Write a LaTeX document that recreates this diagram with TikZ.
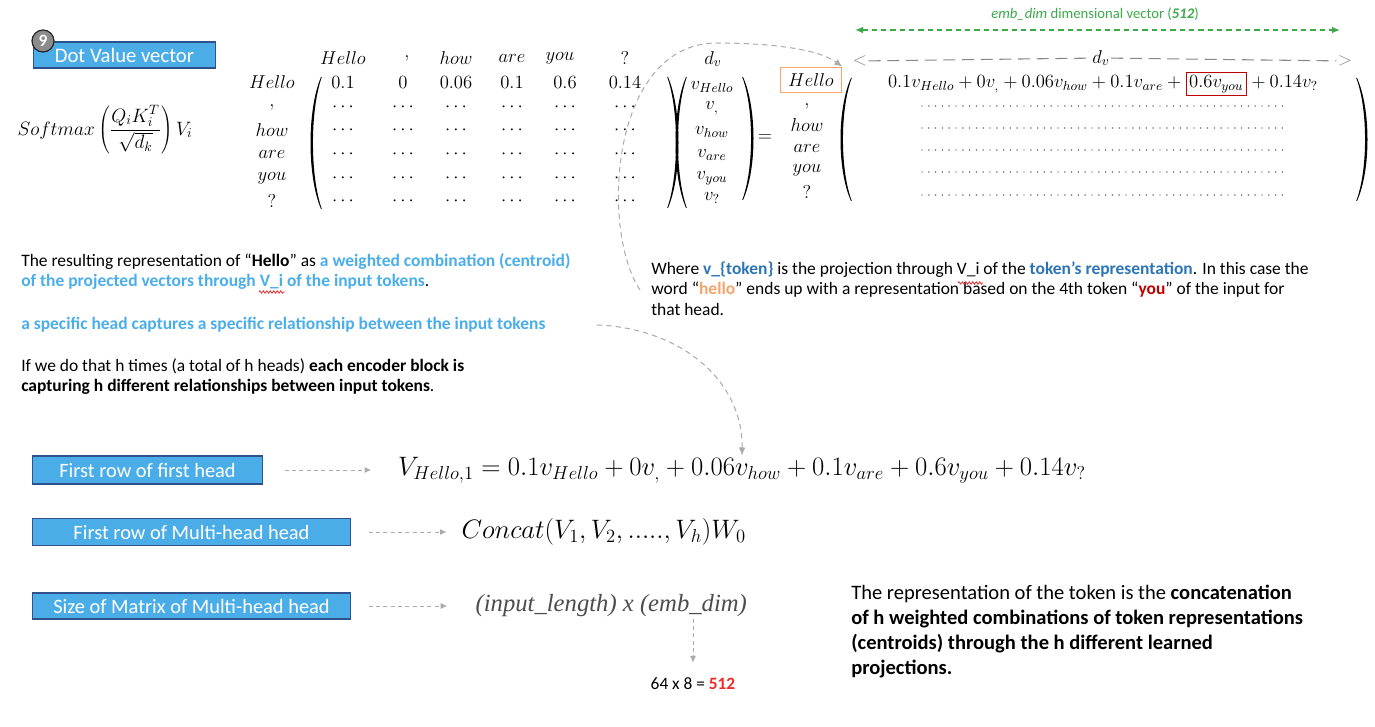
\documentclass[tikz,border=0pt]{standalone}
\usepackage{fix-cm}
\usepackage[no-math]{fontspec}
\setmainfont{Carlito}
\newfontfamily\serfont{Liberation Serif}
\usetikzlibrary{arrows.meta, positioning, calc, decorations.pathmorphing}
\definecolor{colBoxFill}{HTML}{4BADE8}
\definecolor{colBoxLine}{HTML}{2F528F}
\definecolor{colLightBlue}{HTML}{4AAEEA}
\definecolor{colDarkBlue}{HTML}{2E75B6}
\definecolor{colHello}{HTML}{F4A46C}
\definecolor{colYou}{HTML}{C00000}
\definecolor{colGreen}{HTML}{3DAA4A}
\definecolor{colConn}{HTML}{AAAAAA}
\definecolor{colDim}{HTML}{888888}
\definecolor{colRed}{HTML}{EE2A2A}
\definecolor{colSpell}{HTML}{E03030}
\definecolor{colBadge}{HTML}{8C8C8C}
\setlength{\fboxsep}{2pt}
\setlength{\fboxrule}{0.8pt}
% big round brackets, x of the tips, top, bottom
\newcommand{\parL}[3]{%
  \fill ({#1},{#2}) .. controls ({#1-14},{#2+0.25*(#3-#2)}) and ({#1-14},{#3-0.25*(#3-#2)}) .. ({#1},{#3})
    -- ({#1+0.8},{#3}) .. controls ({#1-11},{#3-0.25*(#3-#2)}) and ({#1-11},{#2+0.25*(#3-#2)}) .. ({#1+0.8},{#2}) -- cycle;}
\newcommand{\parR}[3]{%
  \fill ({#1},{#2}) .. controls ({#1+14},{#2+0.25*(#3-#2)}) and ({#1+14},{#3-0.25*(#3-#2)}) .. ({#1},{#3})
    -- ({#1-0.8},{#3}) .. controls ({#1+11},{#3-0.25*(#3-#2)}) and ({#1+11},{#2+0.25*(#3-#2)}) .. ({#1-0.8},{#2}) -- cycle;}

\begin{document}
\begin{tikzpicture}[x=0.75pt, y=-0.75pt,
  mth/.style={font=\fontsize{14}{17}\selectfont, inner sep=1pt},
  bigmth/.style={font=\fontsize{20}{24}\selectfont, inner sep=1pt},
  headbox/.style={draw=colBoxLine, fill=colBoxFill, line width=0.9pt, text=white,
    font=\fontsize{15.3}{18}\selectfont, inner sep=0pt},
  para/.style={anchor=north west, align=left, inner sep=0pt},
  conn/.style={colConn, dash pattern=on 4pt off 3pt, line width=0.75pt, -{Latex[length=6pt,width=5pt]}},
  flow/.style={colConn, dash pattern=on 3pt off 2.5pt, line width=0.7pt, -{Latex[length=5pt,width=4.5pt]}},
  dotrow/.style={black!80, line width=1.1pt, dash pattern=on 0pt off 5.1pt, line cap=round},
  spell/.style={colSpell, line width=0.6pt, decorate, decoration={zigzag, amplitude=0.9pt, segment length=2.6pt}}]

  \path[fill=white] (0,0) rectangle (1375,727);

  % Title box and formula
  \node[headbox, font=\fontsize{15.5}{18}\selectfont, minimum width=137pt, minimum height=19.5pt] (dotBox) at (124.5,55) {Dot Value vector};
  \node[circle, fill=colBadge, draw=black!85, line width=0.9pt, minimum size=16.5pt, inner sep=0pt,
    text=white, font=\bfseries\fontsize{13}{13}\selectfont] (badge) at (43,41) {9};
  \node[mth, font=\fontsize{14.5}{17}\selectfont] (softmax) at (105,130) {$\displaystyle Softmax\left(\frac{Q_iK_i^T}{\sqrt{d_k}}\right)V_i$};

  % Attention matrix
  \foreach \x/\w [count=\i] in {343/Hello, 407/{,}, 456/how, 512/are, 560/you, 625/?}
    \node[mth] (colH\i) at (\x,58) {$\w$};
  \foreach \y/\w [count=\i] in {82/Hello, 107/{,}, 130/how, 154/are, 178/you, 201/?}
    \node[mth] (rowH\i) at (272,\y) {$\w$};
  \foreach \x/\w [count=\i] in {343/0.1, 403/0, 456/0.06, 512/0.1, 565/0.6, 625/0.14}
    \node[mth] (wHello\i) at (\x,82) {$\w$};
  \foreach \x in {343,403,456,512,565,625}
    \foreach \y in {107,130,154,178,201}
      \node[mth] (dt-\x-\y) at (\x,\y) {$\cdots$};
  \parL{321}{77}{209}
  \parR{668}{77}{208}

  % Value vectors
  \node[mth] (dvV) at (713,59) {$d_v$};
  \foreach \y/\w [count=\i] in {87/Hello, 108/{,}, 132/how, 155/are, 178/you, 198/?}
    \node[mth] (vec\i) at (712,\y) {$v_{\w}$};
  \parL{686}{77}{208}
  \parR{743}{77}{200}
  \node[mth] (eq) at (765,138) {$=$};

  % Result
  \node[mth, draw=colHello, line width=0.9pt, minimum width=46pt, minimum height=19pt] (helloB) at (811,80) {$Hello$};
  \foreach \y/\w [count=\i] in {106/{,}, 125/how, 148/are, 170/you, 192/?}
    \node[mth] (resH\i) at (807,\y) {$\w$};
  \parL{851}{78}{201}
  \parR{1357}{78}{201}
  \node[mth, text=colDim] (ltS) at (860,61) {$<$};
  \node[mth, text=colDim] (gtS) at (1345,61) {$>$};
  \node[mth] (dvR) at (1101,58) {$d_v$};
  \draw[colDim, dash pattern=on 9pt off 5pt, line width=0.8pt] (ltS) -- (dvR);
  \draw[colDim, dash pattern=on 9pt off 5pt, line width=0.8pt] (dvR) -- (gtS);
  \node[mth] (resRow) at (1103,84) {$0.1v_{Hello} + 0v_{,} + 0.06v_{how} + 0.1v_{are} + \fcolorbox{colYou}{white}{$0.6v_{you}$} + 0.14v_{?}$};
  \foreach \y in {106,128,150,172,195}
    \draw[dotrow] (922,\y) -- (1284,\y);

  % emb_dim arrow
  \coordinate (embL) at (855,30);
  \coordinate (embR) at (1340,30);
  \draw[colGreen, line width=1.1pt, dash pattern=on 4pt off 3pt, {Latex[length=6pt,width=5pt]}-{Latex[length=6pt,width=5pt]}] (embL) -- (embR);
  \node[text=colGreen, font=\fontsize{11}{13}\selectfont] (embLbl) at (1095,14) {\textit{emb\_dim} dimensional vector (\textbf{\textit{512}})};

  % Notes
  \node[para, font=\fontsize{13.1}{15}\selectfont] (resultNote) at (21,253) {The resulting representation of “\textbf{Hello}” as \textcolor{colLightBlue}{\textbf{a weighted combination (centroid)}}\\
    \textcolor{colLightBlue}{\textbf{of the projected vectors through V\_i of the input tokens}}.};
  \node[anchor=west, inner sep=0pt, font=\fontsize{13.1}{15}\selectfont, text=colLightBlue] (headNote) at (21,325) {\textbf{a specific head captures a specific relationship between the input tokens}};
  \node[para, font=\fontsize{13.1}{15}\selectfont] (hNote) at (21,358) {If we do that h times (a total of h heads) \textbf{each encoder block is}\\
    \textbf{capturing h different relationships between input tokens}.};
  \node[para, font=\fontsize{13.1}{15.4}\selectfont] (whereNote) at (651,261) {Where \textcolor{colDarkBlue}{\textbf{v\_\{token\}}} is the projection through V\_i of the \textcolor{colDarkBlue}{\textbf{token’s representation}}. In this case the\\
    word “\textcolor{colHello}{\textbf{hello}}” ends up with a representation based on the 4th token “\textcolor{colYou}{\textbf{you}}” of the input for\\
    that head.};
  \draw[spell] (259,292) -- (285,292);
  \draw[spell] (958,283) -- (983,283);

  % Dashed pointers
  \coordinate (c1s) at (640,290);
  \draw[conn] (c1s) .. controls (600,230) and (610,43) .. (717,43) .. controls (775,43) and (820,50) .. (helloB.north east);

  % Heads
  \node[headbox, minimum width=173pt, minimum height=21pt] (rowOne) at (147.5,470) {First row of first head};
  \node[headbox, minimum width=239pt, minimum height=20pt] (rowMulti) at (191.5,532) {First row of Multi-head head};
  \node[headbox, minimum width=239pt, minimum height=19.5pt] (matSize) at (191.5,606) {Size of Matrix of Multi-head head};

  \node[bigmth] (vrow) at (742,470) {$V_{Hello,1} = 0.1v_{Hello} + 0v_{,} + 0.06v_{how} + 0.1v_{are} + 0.6v_{you} + 0.14v_{?}$};
  \node[bigmth, anchor=west] (concat) at (460,532) {$Concat(V_1, V_2, ....., V_h)W_0$};
  \node[anchor=west, inner sep=1pt, font=\serfont\itshape\fontsize{18.5}{22}\selectfont, text=black!70] (sizeTxt) at (474,606) {(input\_length) x (emb\_dim)};
  \node[font=\fontsize{13}{15}\selectfont] (prod) at (693,684) {64 x 8 = \textcolor{colRed}{\textbf{512}}};

  \coordinate (c2s) at (597,325);
  \draw[conn] (c2s) .. controls (680,328) and (743,380) .. (vrow.north);
  \draw[flow] ([xshift=16pt]rowOne.east) -- ([xshift=-19pt]vrow.west);
  \draw[flow] ([xshift=13pt]rowMulti.east) -- ([xshift=-10pt]concat.west);
  \draw[flow] ([xshift=13pt]matSize.east) -- ([xshift=-20pt]sizeTxt.west);
  \draw[flow, shorten >=8pt] (sizeTxt.south -| prod.north) -- (prod.north);

  \node[para, font=\fontsize{15.4}{18.75}\selectfont] (concatNote) at (851,585) {The representation of the token is the \textbf{concatenation}\\
    \textbf{of h weighted combinations of token representations}\\
    \textbf{(centroids) through the h different learned}\\
    \textbf{projections.}};
\end{tikzpicture}
\end{document}
